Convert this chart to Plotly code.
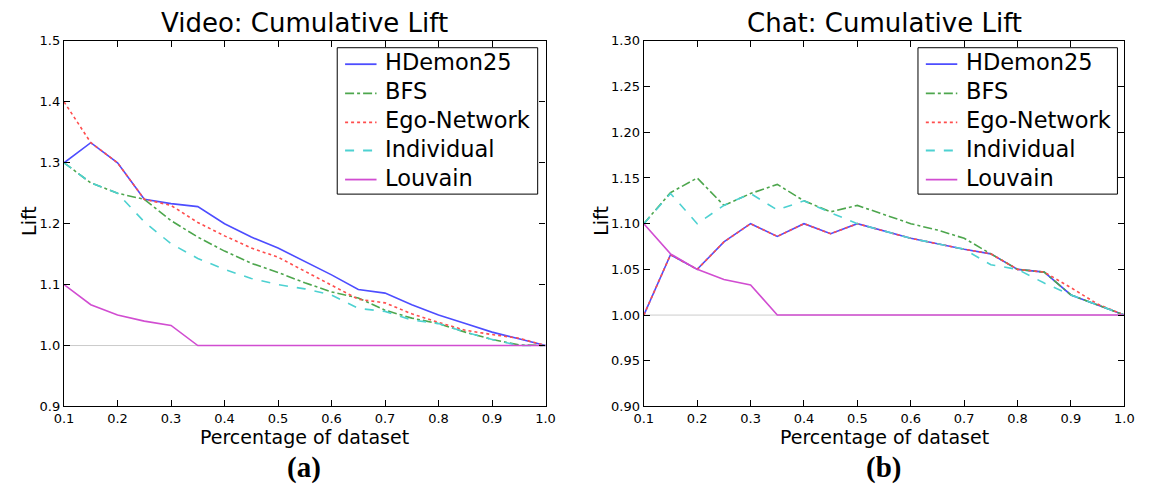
import plotly.graph_objects as go

# Fraction of the dataset covered (shared by both panels)
pct = [0.10, 0.15, 0.20, 0.25, 0.30, 0.35, 0.40, 0.45, 0.50, 0.55,
       0.60, 0.65, 0.70, 0.75, 0.80, 0.85, 0.90, 0.95, 1.00]

# Video network: cumulative lift per method
video_hdemon = [1.300, 1.333, 1.300, 1.240, 1.233, 1.228, 1.200, 1.178, 1.160, 1.138,
                1.116, 1.092, 1.086, 1.067, 1.050, 1.036, 1.022, 1.011, 1.000]
video_bfs = [1.300, 1.267, 1.250, 1.240, 1.205, 1.178, 1.155, 1.135, 1.120, 1.103,
             1.088, 1.078, 1.058, 1.045, 1.036, 1.022, 1.010, 1.001, 1.000]
video_ego = [1.400, 1.333, 1.300, 1.240, 1.230, 1.202, 1.180, 1.160, 1.145, 1.122,
             1.100, 1.076, 1.070, 1.052, 1.038, 1.025, 1.018, 1.012, 1.000]
video_individual = [1.300, 1.267, 1.250, 1.203, 1.167, 1.143, 1.125, 1.110, 1.100, 1.093,
                    1.083, 1.061, 1.056, 1.042, 1.036, 1.022, 1.010, 1.000, 1.000]
video_louvain = [1.100, 1.067, 1.050, 1.040, 1.033, 1.000, 1.000, 1.000, 1.000, 1.000,
                 1.000, 1.000, 1.000, 1.000, 1.000, 1.000, 1.000, 1.000, 1.000]

# Chat network: cumulative lift per method
chat_hdemon = [1.000, 1.066, 1.050, 1.080, 1.100, 1.086, 1.100, 1.089, 1.100, 1.092,
               1.084, 1.078, 1.072, 1.067, 1.050, 1.047, 1.022, 1.011, 1.000]
chat_bfs = [1.100, 1.134, 1.150, 1.120, 1.133, 1.143, 1.125, 1.113, 1.120, 1.110,
            1.100, 1.093, 1.084, 1.067, 1.050, 1.047, 1.022, 1.011, 1.000]
chat_ego = [1.000, 1.066, 1.050, 1.080, 1.100, 1.086, 1.100, 1.089, 1.100, 1.092,
            1.084, 1.078, 1.072, 1.067, 1.050, 1.047, 1.030, 1.012, 1.000]
chat_individual = [1.100, 1.133, 1.100, 1.120, 1.133, 1.115, 1.125, 1.112, 1.100, 1.092,
                   1.084, 1.078, 1.072, 1.055, 1.050, 1.035, 1.022, 1.011, 1.000]
chat_louvain = [1.100, 1.067, 1.050, 1.039, 1.033, 1.000, 1.000, 1.000, 1.000, 1.000,
                1.000, 1.000, 1.000, 1.000, 1.000, 1.000, 1.000, 1.000, 1.000]

methods = ["HDemon25", "BFS", "Ego-Network", "Individual", "Louvain"]
colors = ["#4d4dff", "#4da64d", "#ff4d4d", "#4dd1d1", "#d14dd1"]
dashes = ["solid", "dashdot", "dot", "dash", "solid"]

video = [video_hdemon, video_bfs, video_ego, video_individual, video_louvain]
chat = [chat_hdemon, chat_bfs, chat_ego, chat_individual, chat_louvain]

W, H = 1153, 492
FONT = "DejaVu Sans"


def px_x(v):
    return v / W


def px_y(v):
    return 1 - v / H


fig = go.Figure()

for name, ys, c, d in zip(methods, video, colors, dashes):
    fig.add_trace(go.Scatter(x=pct, y=ys, name=name, mode="lines", showlegend=False,
                             line=dict(color=c, width=1.6, dash=d),
                             xaxis="x", yaxis="y"))
for name, ys, c, d in zip(methods, chat, colors, dashes):
    fig.add_trace(go.Scatter(x=pct, y=ys, name=name, mode="lines", showlegend=False,
                             line=dict(color=c, width=1.6, dash=d),
                             xaxis="x2", yaxis="y2"))

# plot areas in pixels
left_dom = [px_x(55), px_x(545)]
right_dom = [px_x(645), px_x(1134)]
y_dom = [px_y(412), px_y(35)]

axis_common = dict(showline=True, linecolor="black", linewidth=1.3, mirror="ticks",
                   ticks="inside", ticklen=6, tickcolor="black", showgrid=False,
                   zeroline=False, tickfont=dict(family=FONT, size=13, color="black"))

fig.update_layout(
    width=W, height=H, margin=dict(l=0, r=0, t=0, b=0),
    paper_bgcolor="white", plot_bgcolor="white", showlegend=False,
    font=dict(family=FONT, color="black"),
    xaxis=dict(domain=left_dom, range=[0.1, 1.0], dtick=0.1, tick0=0.1,
               tickformat=".1f", anchor="y", **axis_common),
    yaxis=dict(domain=y_dom, range=[0.9, 1.5], dtick=0.1, tick0=0.9,
               tickformat=".1f", anchor="x", **axis_common),
    xaxis2=dict(domain=right_dom, range=[0.1, 1.0], dtick=0.1, tick0=0.1,
                tickformat=".1f", anchor="y2", **axis_common),
    yaxis2=dict(domain=y_dom, range=[0.9, 1.3], dtick=0.05, tick0=0.9,
                tickformat=".2f", anchor="x2", **axis_common),
)

# baseline at lift = 1
for xr, yr in (("x domain", "y"), ("x2 domain", "y2")):
    fig.add_shape(type="line", xref=xr, yref=yr, x0=0, x1=1, y0=1.0, y1=1.0,
                  line=dict(color="#cccccc", width=1), layer="below")

# boxed key in the upper-right corner of each panel
row_y = [59, 89, 119, 148, 178]
for box_l, box_r in ((333, 537), (924, 1127)):
    fig.add_shape(type="rect", xref="paper", yref="paper",
                  x0=px_x(box_l), x1=px_x(box_r), y0=px_y(193), y1=px_y(42),
                  line=dict(color="black", width=1), fillcolor="white", layer="above")
    for name, c, d, ry in zip(methods, colors, dashes, row_y):
        fig.add_shape(type="line", xref="paper", yref="paper",
                      x0=px_x(box_l + 8), x1=px_x(box_l + 40), y0=px_y(ry), y1=px_y(ry),
                      line=dict(color=c, width=1.8, dash=d), layer="above")
        fig.add_annotation(text=name, x=px_x(box_l + 47), y=px_y(ry - 2),
                           xref="paper", yref="paper", showarrow=False,
                           xanchor="left", yanchor="middle",
                           font=dict(family=FONT, size=22.5, color="black"))

annots = [
    dict(text="Video: Cumulative Lift", x=300, y=17, size=26),
    dict(text="Chat: Cumulative Lift", x=890, y=17, size=26),
    dict(text="Percentage of dataset", x=300, y=444, size=19),
    dict(text="Percentage of dataset", x=890, y=444, size=19),
]
for a in annots:
    fig.add_annotation(text=a["text"], x=px_x(a["x"]), y=px_y(a["y"]),
                       xref="paper", yref="paper", showarrow=False,
                       xanchor="center", yanchor="middle",
                       font=dict(family=FONT, size=a["size"], color="black"))
for xp in (20, 602):
    fig.add_annotation(text="Lift", x=px_x(xp), y=px_y(221), xref="paper", yref="paper",
                       showarrow=False, textangle=-90, xanchor="center", yanchor="middle",
                       font=dict(family=FONT, size=19, color="black"))
for lbl, xp in (("(a)", 299), ("(b)", 889)):
    fig.add_annotation(text="<b>" + lbl + "</b>", x=px_x(xp), y=px_y(475),
                       xref="paper", yref="paper", showarrow=False,
                       xanchor="center", yanchor="middle",
                       font=dict(family="Liberation Serif", size=29, color="black"))

fig.write_html("out.html")
